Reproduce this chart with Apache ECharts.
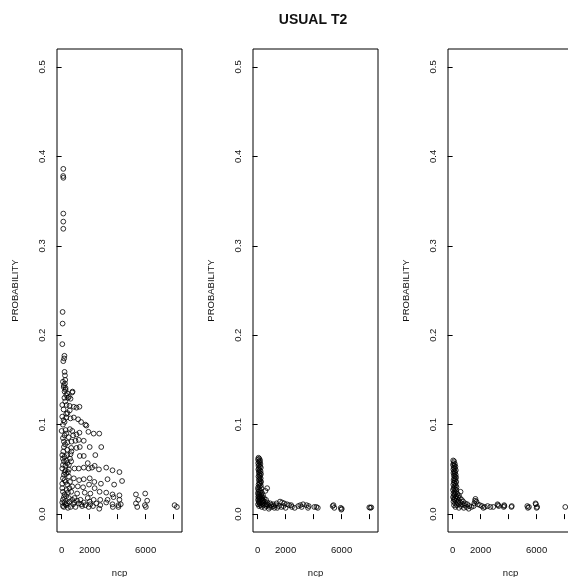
<!DOCTYPE html>
<html lang="en">
<head>
<meta charset="UTF-8">
<title>USUAL T2</title>
<script src="https://cdn.jsdelivr.net/npm/echarts@6/dist/echarts.min.js"></script>
<style>
  html, body { margin: 0; padding: 0; background: #fff; }
  #main { width: 568px; height: 577px; }
</style>
</head>
<body>
<div id="main"></div>
<script>
// values
var titleText = 'USUAL T2';
var xName = 'ncp';
var yName = 'PROBABILITY';
var xTicks = [0, 2000, 4000, 6000, 8000];
var xLabels = [0, 2000, 6000];   // R dropped 4000 and 8000 labels
var yTicks = [0, 0.1, 0.2, 0.3, 0.4, 0.5];

// panel 1
var ncp1 = [
  120,110,125,120,120,120,70,70,50,200,180,120,
  210,240,260,240,150,280,780,330,200,450,520,94,
  165,283,212,401,755,637,47,354,566,873,1062,1274,
  47,330,637,873,1180,1392,1699,1770,0,283,590,826,
  1062,1274,1912,2289,2690,165,401,708,991,1227,1581,165,
  401,684,1062,1298,2006,2832,47,401,637,1298,1581,2407,
  165,401,684,1865,2171,2360,47,283,519,920,1227,1581,
  1935,2667,3186,3635,4131,165,519,873,1251,1581,2006,2336,
  2808,3280,3752,4319,47,401,755,1156,1534,1959,2360,47,
  354,684,1109,1652,2053,2714,3186,3635,4131,5310,5971,165,
  519,920,1345,1865,2289,2761,3280,3705,4131,5475,6113,47,
  401,826,1227,1581,2053,2478,2761,3186,3635,4060,4225,5310,
  5947,8071,8236,165,637,991,1463,1935,2242,2690,3658,4060,
  5404,6018,
  94,212,330,94,283,212,330,94,212,283,94,212,
  330,94,212,330,94,450,283,566,755,94,212,330,
  94,212,330,140,260,450,560,600,450,520,600,700,
  120,250,500,760,140,420,580,900,1100,1400,1700,2000
];
var prob1 = [
  .386,.378,.376,.336,.327,.319,.226,.213,.190,.177,.174,.171,
  .159,.155,.150,.146,.142,.139,.137,.133,.130,.130,.131,.148,
  .144,.141,.137,.135,.136,.129,.122,.122,.121,.120,.119,.120,
  .109,.108,.107,.108,.106,.103,.100,.099,.093,.094,.095,.088,
  .089,.091,.092,.090,.090,.081,.080,.081,.082,.083,.082,.075,
  .072,.074,.074,.075,.075,.075,.066,.066,.067,.065,.065,.066,
  .059,.057,.059,.057,.052,.054,.051,.049,.050,.051,.051,.052,
  .051,.050,.052,.049,.047,.044,.042,.040,.038,.039,.040,.036,
  .034,.039,.033,.037,.034,.033,.031,.031,.030,.033,.029,.029,
  .027,.025,.023,.024,.023,.025,.024,.022,.021,.022,.023,.019,
  .018,.018,.016,.018,.016,.016,.016,.019,.016,.016,.015,.013,
  .012,.011,.012,.013,.011,.012,.010,.013,.011,.010,.011,.012,
  .010,.010,.008,.008,.008,.008,.009,.008,.009,.006,.008,.008,
  .008,.008,
  .062,.064,.060,.055,.054,.047,.045,.040,.038,.036,.025,.022,
  .020,.016,.013,.010,.009,.007,.011,.014,.016,.085,.088,.090,
  .100,.103,.112,.117,.126,.024,.029,.036,.047,.055,.062,.070,
  .070,.078,.086,.093,.105,.113,.116,.013,.015,.011,.010,.014
];

// panel 2
var ncp2 = [
  60,120,30,180,90,150,40,200,110,60,170,230,
  100,50,140,210,80,160,240,110,190,60,130,220,
  150,90,200,250,120,180,70,230,140,40,680,260,
  30,110,200,560,60,160,300,20,90,240,380,130,
  50,200,330,450,100,270,600,30,170,400,520,80,
  700,250,900,130,350,560,30,1100,200,750,450,1300,
  100,620,1500,300,850,1000,1700,500,1200,1400,2000,800,
  1600,1750,1900,2100,2250,1850,2450,2650,2400,2900,3050,3250,
  3150,3500,3650,3600,4050,4300,4200,5360,5420,5480,5940,6010,
  5980,7980,8120,8050,280,150,350,60,210,100,300,420,
  650,950,1150,1350
];
var prob2 = [
  .063,.062,.061,.060,.059,.058,.057,.056,.055,.054,.053,.052,
  .051,.050,.049,.048,.047,.046,.045,.044,.043,.042,.041,.040,
  .039,.038,.037,.036,.035,.034,.033,.032,.031,.030,.029,.029,
  .028,.027,.026,.026,.025,.024,.024,.023,.022,.022,.021,.020,
  .019,.019,.018,.018,.017,.017,.016,.016,.015,.015,.014,.014,
  .013,.013,.012,.012,.012,.011,.011,.011,.010,.010,.010,.010,
  .009,.009,.009,.008,.008,.008,.008,.007,.007,.007,.007,.006,
  .014,.013,.012,.011,.010,.009,.008,.007,.010,.009,.010,.011,
  .008,.010,.009,.007,.008,.007,.008,.009,.010,.007,.007,.006,
  .005,.0075,.0075,.007,.020,.018,.015,.020,.016,.013,.011,.013,
  .011,.010,.009,.012
];

// panel 3
var ncp3 = [
  40,110,70,160,30,120,200,80,150,50,230,110,
  180,60,140,220,90,170,250,120,200,70,150,260,
  100,190,50,230,130,280,80,170,30,250,567,130,
  210,60,330,160,450,100,250,30,380,180,520,80,
  300,650,140,420,230,750,60,550,330,900,180,700,
  450,1050,100,850,300,1200,600,1000,200,1350,800,450,
  1150,1629,1600,1700,1550,1800,1950,1500,2100,2300,2500,2700,
  2200,2900,3210,3250,3300,3682,3700,3650,4225,4200,5334,5452,
  5380,5924,5950,6042,6000,8048
];
var prob3 = [
  .060,.059,.057,.056,.055,.054,.053,.052,.051,.050,.049,.048,
  .047,.046,.045,.044,.043,.042,.041,.040,.039,.038,.037,.036,
  .035,.034,.033,.032,.031,.030,.029,.028,.027,.027,.025,.025,
  .024,.023,.023,.022,.021,.021,.020,.019,.019,.018,.018,.017,
  .017,.016,.016,.015,.015,.014,.014,.013,.013,.012,.012,.011,
  .011,.011,.010,.010,.010,.009,.009,.008,.008,.008,.007,.007,
  .006,.017,.015,.014,.012,.011,.010,.009,.009,.008,.009,.008,
  .007,.008,.011,.010,.009,.010,.009,.008,.009,.008,.009,.008,
  .007,.012,.011,.008,.007,.008
];

var panels = [[ncp1, prob1], [ncp2, prob2], [ncp3, prob3]];
var lefts = [57, 253, 448];

var font = "'Liberation Sans', Helvetica, Arial, sans-serif";

function zip(xs, ys) {
    var out = [];
    for (var i = 0; i < xs.length; i++) out.push([xs[i], ys[i]]);
    return out;
}

var grid = [], xAxis = [], yAxis = [], series = [];
for (var p = 0; p < 3; p++) {
    grid.push({
        left: lefts[p], top: 49, width: 125, height: 483,
        outerBoundsMode: 'none', containLabel: false,
        show: true, borderColor: '#000', borderWidth: 1, backgroundColor: 'transparent'
    });
    xAxis.push({
        type: 'value', gridIndex: p, min: -330, max: 8600,
        name: xName, nameLocation: 'middle', nameGap: 36,
        nameTextStyle: { fontFamily: font, fontSize: 9.5, color: '#111' },
        axisLine: { show: false },
        splitLine: { show: false },
        axisTick: { show: true, length: 5, customValues: xTicks, lineStyle: { color: '#000' } },
        axisLabel: {
            customValues: xLabels, margin: 13, fontFamily: font, fontSize: 9.5, color: '#111',
            hideOverlap: false,
            formatter: function (v) { return String(v); }
        }
    });
    yAxis.push({
        type: 'value', gridIndex: p, min: -0.02, max: 0.52,
        name: yName, nameLocation: 'middle', nameGap: 37,
        nameTextStyle: { fontFamily: font, fontSize: 9.5, color: '#111' },
        axisLine: { show: false },
        splitLine: { show: false },
        axisTick: { show: true, length: 5, customValues: yTicks, lineStyle: { color: '#000' } },
        axisLabel: {
            customValues: yTicks, rotate: 90, margin: 10,
            fontFamily: font, fontSize: 9.5, color: '#111', hideOverlap: false,
            formatter: function (v) { return v.toFixed(1); }
        }
    });
    series.push({
        type: 'scatter', xAxisIndex: p, yAxisIndex: p,
        symbol: 'circle', symbolSize: 4.8,
        itemStyle: { color: 'transparent', borderColor: '#000', borderWidth: 1 },
        data: zip(panels[p][0], panels[p][1])
    });
}

var chart = echarts.init(document.getElementById('main'));
chart.setOption({
    animation: false,
    backgroundColor: '#fff',
    title: {
        text: titleText, left: 308, top: 8, textAlign: 'center',
        textStyle: { fontFamily: font, fontSize: 14, fontWeight: 'bold', color: '#111' }
    },
    grid: grid,
    xAxis: xAxis,
    yAxis: yAxis,
    series: series
});
</script>
</body>
</html>
